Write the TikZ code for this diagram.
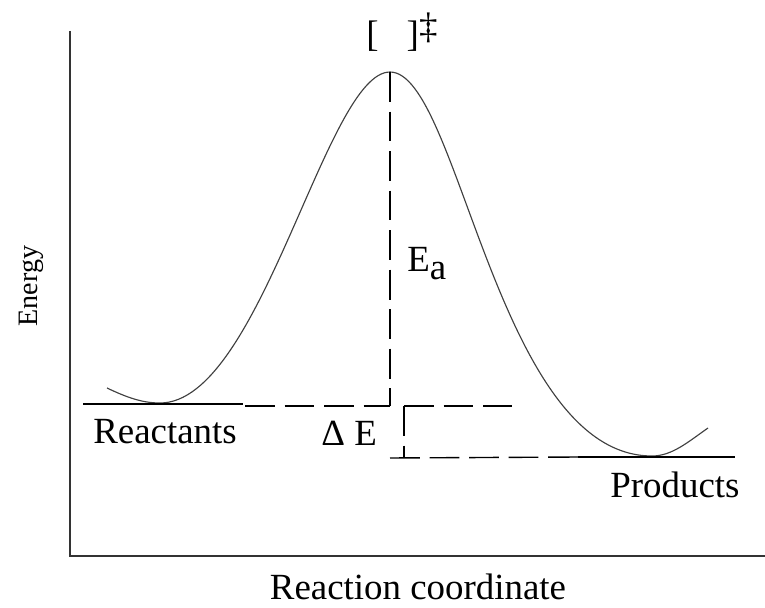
\documentclass[tikz,border=0pt]{standalone}
\usepackage{fontspec}
\setmainfont{Liberation Serif}
\usetikzlibrary{calc}

\begin{document}
\begin{tikzpicture}[x=0.02cm, y=-0.02cm, % 1 unit = 1 pixel of the 765x608 frame
    level/.style={black, line width=0.9pt},
    guide/.style={black, line width=0.8pt, dash pattern=on 17pt off 5.5pt},
    lbl/.style={inner sep=0pt, font=\fontsize{21}{25}\selectfont}]

    \useasboundingbox (0,0) rectangle (765,608);

    % 1. Axes (energy up, reaction coordinate to the right)
    \coordinate (top) at (70,31);
    \coordinate (O) at (70,556);
    \coordinate (right) at (765,556);
    \draw[black!80, line width=1.2pt] (top) -- (O) -- (right);

    % 2. Energy profile
    \coordinate (TS) at (390,72);
    \draw[black!75, line width=0.65pt] (107,388)
        .. controls (128,398) and (143,403) .. (160,403)
        .. controls (261,403) and (326,72) .. (TS)
        .. controls (459,72) and (497,456) .. (652,456)
        .. controls (672,456) and (688,442) .. (708,428);

    % 3. Levels of reactants and products
    \coordinate (R1) at (83,404);
    \coordinate (R2) at (243,404);
    \coordinate (P1) at (578,457);
    \coordinate (P2) at (735,457);
    \draw[level] (R1) -- (R2);
    \draw[level] (P1) -- (P2);

    % 4. Dashed guides for Ea and Delta E
    \coordinate (Ra) at (245,406);
    \coordinate (Rb) at (390,406);
    \coordinate (Rc) at (404,406);
    \coordinate (Rd) at (512,406);
    \coordinate (Pa) at (390,458);
    \coordinate (Pb) at (404,458);
    \draw[guide] (TS) -- (Rb);
    \draw[guide] (Ra) -- (Rb);
    \draw[guide] (Rc) -- (Rd);
    \draw[guide] (Rc) -- (Pb);
    \draw[guide] (Pa) -- (P1);

    % 5. Labels
    \node[lbl, anchor=base west] (ts) at (366,47) {[\hspace{16pt}]\raisebox{5pt}{‡}};
    \node[lbl, anchor=base west] (Ea) at (407,272) {E\raisebox{-4.5pt}{a}};
    \node[lbl, anchor=base west] (dE) at (321,445) {Δ E};
    \node[lbl, anchor=base] (reac) at (165,443) {Reactants};
    \node[lbl, anchor=base] (prod) at (675,497) {Products};
    \node[lbl, anchor=base] (xlab) at (418,599) {Reaction coordinate};
    \node[inner sep=0pt, font=\fontsize{16}{19}\selectfont, rotate=90] (ylab) at (31,286) {Energy};

\end{tikzpicture}
\end{document}
